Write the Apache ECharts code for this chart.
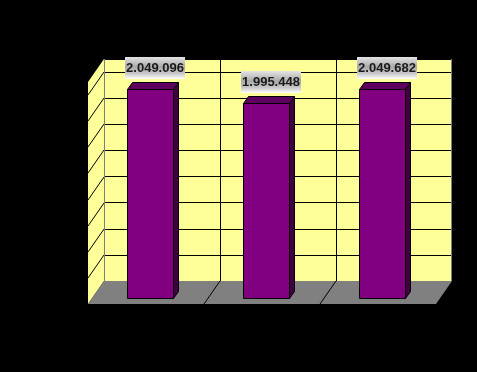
<!DOCTYPE html>
<html>
<head>
<meta charset="utf-8">
<script src="https://cdn.jsdelivr.net/npm/echarts@6/dist/echarts.min.js"></script>
<style>html,body{margin:0;padding:0;background:#000;}#c{width:477px;height:372px;}</style>
</head>
<body>
<div id="c"></div>
<script>
const categories = ['1', '2', '3'];
const values = [2049096, 1995448, 2049682];
const yMin = 1250000;
const yMax = 2100000;
const yStep = 100000;
const yTicks = [1350000, 1450000, 1550000, 1650000, 1750000, 1850000, 1950000, 2050000];

function fmt(v) {
  return String(v).replace(/\B(?=(\d{3})+(?!\d))/g, '.');
}

const DX = -16, DY = 23;      // wall depth
const FX = -12, FY = 17;      // bar front plane offset
const BX = 5, BY = -7;        // bar depth
const BW = 46;

const chart = echarts.init(document.getElementById('c'), null, {renderer: 'canvas'});

function frameItem(params, api) {
  const cs = params.coordSys;
  const x0 = Math.round(cs.x), x1 = Math.round(cs.x + cs.width);
  const yT = Math.round(cs.y), yB = Math.round(cs.y + cs.height);
  const band = api.size([1, 0])[0];
  const children = [];
  // left wall
  children.push({type: 'polygon', shape: {points: [[x0, yT], [x0, yB], [x0 + DX, yB + DY], [x0 + DX, yT + DY]]},
    style: {fill: '#ffff99', stroke: null}});
  // floor
  children.push({type: 'polygon', shape: {points: [[x0, yB], [x1, yB], [x1 + DX, yB + DY], [x0 + DX, yB + DY]]},
    style: {fill: '#808080', stroke: null}});
  // left wall grid diagonals
  yTicks.forEach(function (t) {
    const y = Math.round(api.coord([0, t])[1]);
    children.push({type: 'line', shape: {x1: x0, y1: y, x2: x0 + DX, y2: y + DY},
      style: {stroke: '#000', lineWidth: 1}});
  });
  // floor diagonals at category boundaries
  for (let i = 1; i < categories.length; i++) {
    const x = Math.round(api.coord([i, yMin])[0] - band / 2);
    children.push({type: 'line', shape: {x1: x, y1: yB, x2: x + DX, y2: yB + DY},
      style: {stroke: '#000', lineWidth: 1}});
  }
  // gray edges of back wall
  children.push({type: 'line', shape: {x1: x0 + 0.5, y1: yT, x2: x0 + 0.5, y2: yB}, style: {stroke: '#808080', lineWidth: 1}});
  children.push({type: 'line', shape: {x1: x1 - 0.5, y1: yT, x2: x1 - 0.5, y2: yB}, style: {stroke: '#808080', lineWidth: 1}});
  return {type: 'group', children: children};
}

function barItem(params, api) {
  const i = api.value(0);
  const v = api.value(1);
  const p = api.coord([i, v]);
  const b = api.coord([i, yMin]);
  const cx = Math.round(p[0] + FX);
  const xa = cx - BW / 2 + 0.5, xb = cx + BW / 2 + 0.5;
  const top = Math.round(p[1] + FY) + 0.5;
  const bot = Math.round(b[1] + FY) + 0.5;
  const lx = Math.round(p[0] - 7);
  const ly = Math.round(p[1] + 7);
  return {type: 'group', children: [
    {type: 'polygon', shape: {points: [[xb, top], [xb + BX, top + BY], [xb + BX, bot + BY], [xb, bot]]},
      style: {fill: '#400040', stroke: '#000', lineWidth: 1}},
    {type: 'polygon', shape: {points: [[xa, top], [xa + BX, top + BY], [xb + BX, top + BY], [xb, top]]},
      style: {fill: '#5e005e', stroke: '#000', lineWidth: 1}},
    {type: 'rect', shape: {x: xa, y: top, width: BW, height: bot - top},
      style: {fill: '#800080', stroke: '#000', lineWidth: 1}},
    {type: 'rect', shape: {x: lx - 30, y: ly - 22, width: 60, height: 22},
      style: {fill: new echarts.graphic.LinearGradient(0, 0, 0, 1, [
        {offset: 0, color: '#e4e4e4'},
        {offset: 0.45, color: '#a9a9a9'},
        {offset: 0.75, color: '#c8c8c8'},
        {offset: 1, color: '#ffffff'}
      ]), stroke: null}},
    {type: 'text', x: lx, y: ly - 11,
      style: {text: fmt(v), fill: '#1a1a1a', font: 'bold 13px "Liberation Sans", Arial, sans-serif',
        align: 'center', verticalAlign: 'middle'}}
  ]};
}

chart.setOption({
  backgroundColor: '#000000',
  animation: false,
  grid: {left: 104, top: 59, right: 25, bottom: 91, show: true, backgroundColor: '#ffff99', borderWidth: 0},
  xAxis: {
    type: 'category', data: categories,
    axisLine: {show: false}, axisTick: {show: false}, axisLabel: {show: false},
    splitLine: {show: true, lineStyle: {color: '#000', width: 1}}
  },
  yAxis: {
    type: 'value', min: yMin, max: yMax, interval: yStep,
    axisLine: {show: false}, axisTick: {show: false}, axisLabel: {show: false},
    splitLine: {show: true, lineStyle: {color: '#000', width: 1}}
  },
  series: [
    {type: 'custom', name: 'frame', renderItem: frameItem, data: [[0, yMin]], silent: true, z: 1, clip: false},
    {type: 'custom', name: 'bars', renderItem: barItem, data: values.map(function (v, i) { return [i, v]; }), z: 2, clip: false}
  ]
});
</script>
</body>
</html>
